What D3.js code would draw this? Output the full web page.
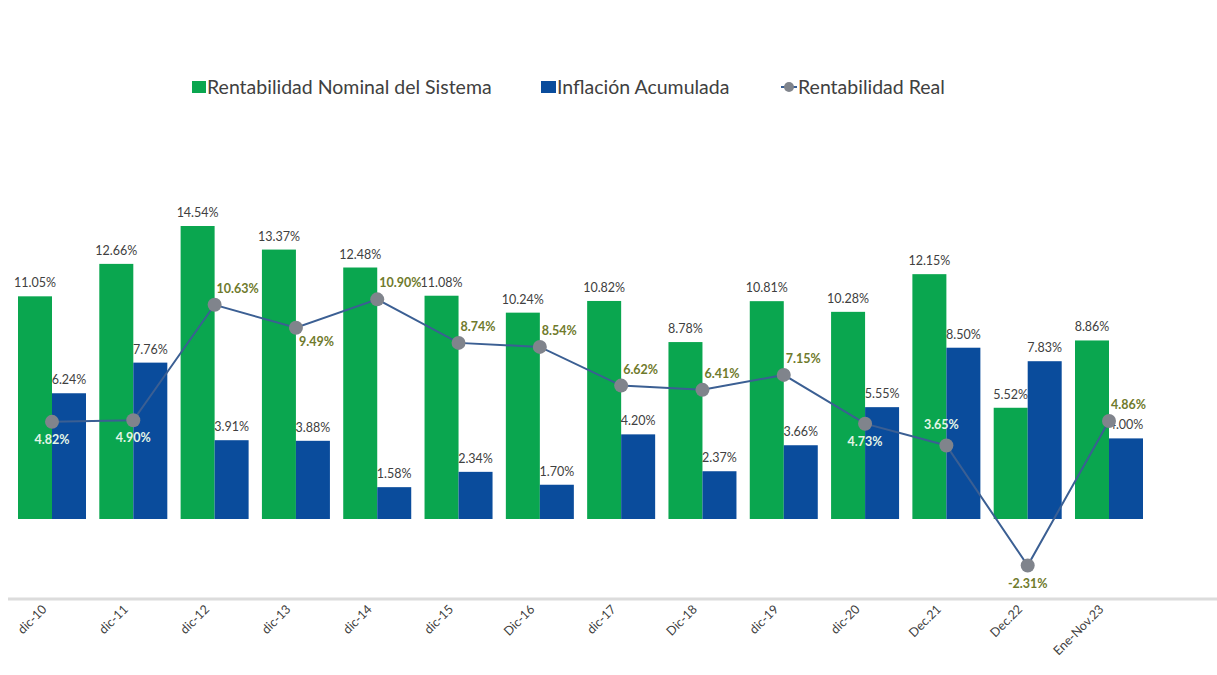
<!DOCTYPE html>
<html>
<head>
<meta charset="utf-8">
<script src="https://cdnjs.cloudflare.com/ajax/libs/d3/7.8.5/d3.min.js"></script>
<style>
    body { margin: 0; background: #fff; }
    svg { display: block; font-family: Lato, "Open Sans", sans-serif; }
</style>
</head>
<body>
<div id="chart"></div>
<script>
    var categories = ["dic-10", "dic-11", "dic-12", "dic-13", "dic-14", "dic-15", "Dic-16",
                      "dic-17", "Dic-18", "dic-19", "dic-20", "Dec.21", "Dec.22", "Ene-Nov.23"];
    var nominal   = [11.05, 12.66, 14.54, 13.37, 12.48, 11.08, 10.24, 10.82, 8.78, 10.81, 10.28, 12.15, 5.52, 8.86];
    var inflation = [6.24, 7.76, 3.91, 3.88, 1.58, 2.34, 1.70, 4.20, 2.37, 3.66, 5.55, 8.50, 7.83, 4.00];
    var real      = [4.82, 4.90, 10.63, 9.49, 10.90, 8.74, 8.54, 6.62, 6.41, 7.15, 4.73, 3.65, -2.31, 4.86];
    // where the real label sits relative to its point
    var realLabelPos = ["below", "below", "upright", "downright", "upright", "upright", "upright",
                        "upright", "upright", "upright", "below", "above", "below", "upright"];
    var seriesNames = ["Rentabilidad Nominal del Sistema", "Inflación Acumulada", "Rentabilidad Real"];

    var width = 1217, height = 675;
    var green = "#0aa64f", blue = "#0a4c9c", lineColor = "#3b5f93", dotColor = "#80848c";
    var textColor = "#404040", olive = "#6f7a2c", pale = "#e4f5e6";

    var svg = d3.select("#chart").append("svg")
        .attr("width", width).attr("height", height);

    // category point = boundary between the green and the blue bar
    var x = d3.scalePoint().domain(categories).range([52, 1109]);
    var barW = 34;
    var y = d3.scaleLinear().domain([0, 14.54]).range([519, 226]);

    var fmt = function(v) { return v.toFixed(2) + "%"; };

    // axis line
    svg.append("line")
        .attr("x1", 8).attr("x2", width)
        .attr("y1", 599).attr("y2", 599)
        .attr("stroke", "#dcdcdc").attr("stroke-width", 3);

    var xAxis = svg.append("g")
        .attr("transform", "translate(0,600)")
        .call(d3.axisBottom(x).tickSize(0).tickPadding(0));
    xAxis.select(".domain").remove();
    xAxis.selectAll("text")
        .attr("font-family", "Lato, 'Open Sans', sans-serif")
        .attr("font-size", 12.5)
        .attr("fill", textColor)
        .attr("text-anchor", "end")
        .attr("dx", 0).attr("dy", 0)
        .attr("transform", "translate(-5,10) rotate(-45)");

    // bars
    svg.selectAll("rect.nom").data(nominal).enter().append("rect")
        .attr("class", "nom")
        .attr("x", (d, i) => x(categories[i]) - barW)
        .attr("width", barW)
        .attr("y", d => y(d))
        .attr("height", d => y(0) - y(d))
        .attr("fill", green);

    svg.selectAll("rect.inf").data(inflation).enter().append("rect")
        .attr("class", "inf")
        .attr("x", (d, i) => x(categories[i]))
        .attr("width", barW)
        .attr("y", d => y(d))
        .attr("height", d => y(0) - y(d))
        .attr("fill", blue);

    // bar labels
    svg.selectAll("text.nomlbl").data(nominal).enter().append("text")
        .attr("class", "nomlbl")
        .attr("x", (d, i) => x(categories[i]) - barW / 2)
        .attr("y", d => y(d) - 9)
        .attr("text-anchor", "middle")
        .attr("font-size", 12.5)
        .attr("fill", textColor)
        .text(fmt);

    svg.selectAll("text.inflbl").data(inflation).enter().append("text")
        .attr("class", "inflbl")
        .attr("x", (d, i) => x(categories[i]) + barW / 2)
        .attr("y", d => y(d) - 9)
        .attr("text-anchor", "middle")
        .attr("font-size", 12.5)
        .attr("fill", textColor)
        .text(fmt);

    // real line
    var line = d3.line()
        .x((d, i) => x(categories[i]))
        .y(d => y(d));
    svg.append("path")
        .datum(real)
        .attr("d", line)
        .attr("fill", "none")
        .attr("stroke", lineColor)
        .attr("stroke-width", 2);

    svg.selectAll("circle.real").data(real).enter().append("circle")
        .attr("class", "real")
        .attr("cx", (d, i) => x(categories[i]))
        .attr("cy", d => y(d))
        .attr("r", 7)
        .attr("fill", dotColor);

    svg.selectAll("text.reallbl").data(real).enter().append("text")
        .attr("class", "reallbl")
        .attr("font-size", 12.5)
        .attr("font-weight", "bold")
        .each(function(d, i) {
            var px = x(categories[i]), py = y(d), pos = realLabelPos[i];
            var t = d3.select(this).text(fmt(d));
            if (pos === "below") {
                t.attr("x", px).attr("y", py + 22).attr("text-anchor", "middle")
                 .attr("fill", d < 0 ? olive : pale);
            } else if (pos === "above") {
                t.attr("x", px - 5).attr("y", py - 16).attr("text-anchor", "middle").attr("fill", pale);
            } else if (pos === "downright") {
                t.attr("x", px + 3).attr("y", py + 18).attr("text-anchor", "start").attr("fill", olive);
            } else {
                t.attr("x", px + 2).attr("y", py - 12).attr("text-anchor", "start").attr("fill", olive);
            }
        });

    // legend
    var legend = svg.append("g").attr("transform", "translate(0,87)");
    legend.append("rect").attr("x", 192).attr("y", -6).attr("width", 14).attr("height", 12).attr("fill", green);
    legend.append("text").attr("x", 207).attr("y", 7).attr("font-size", 19.5).attr("fill", textColor).text(seriesNames[0]);
    legend.append("rect").attr("x", 541).attr("y", -6).attr("width", 15).attr("height", 12).attr("fill", blue);
    legend.append("text").attr("x", 557).attr("y", 7).attr("font-size", 19.5).attr("fill", textColor).text(seriesNames[1]);
    legend.append("line").attr("x1", 781).attr("x2", 797).attr("y1", 0).attr("y2", 0)
        .attr("stroke", lineColor).attr("stroke-width", 2);
    legend.append("circle").attr("cx", 789).attr("cy", 0).attr("r", 5).attr("fill", dotColor);
    legend.append("text").attr("x", 798).attr("y", 7).attr("font-size", 19.5).attr("fill", textColor).text(seriesNames[2]);
</script>
</body>
</html>
